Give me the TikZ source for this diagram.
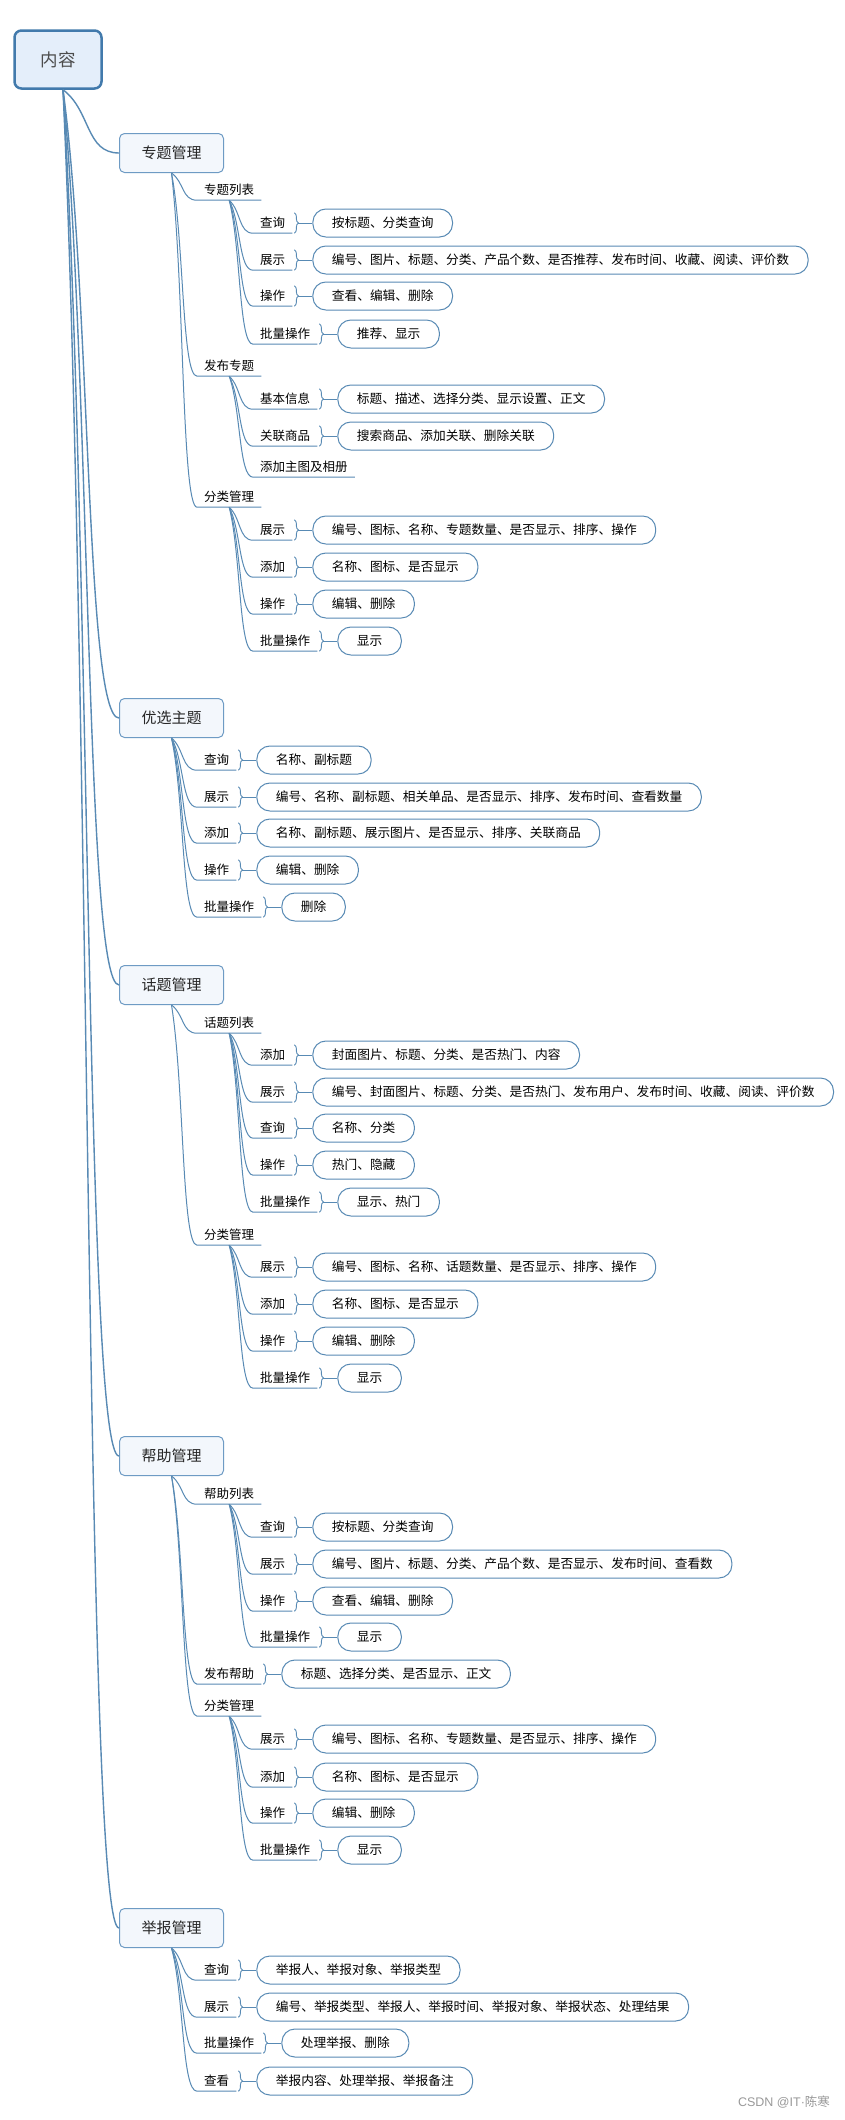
\documentclass[tikz,border=0pt]{standalone}
\usepackage{fontspec}
\newfontfamily\cjk{Noto Sans CJK SC}
\newfontfamily\lat{Liberation Sans}
\usepackage{tikz}
\usetikzlibrary{positioning,calc,decorations.pathreplacing}
\definecolor{linec}{RGB}{88,138,180}
\definecolor{rootc}{RGB}{66,122,172}
\definecolor{rootfill}{RGB}{228,238,250}
\definecolor{topicc}{RGB}{110,155,196}
\definecolor{topicfill}{RGB}{243,247,252}

\begin{document}
\begin{tikzpicture}[x=1pt, y=1pt,
    root/.style={draw=rootc, line width=2.5pt, rounded corners=7pt, fill=rootfill,
                 minimum width=87pt, minimum height=58pt,
                 font=\cjk\fontsize{17.5}{20}\selectfont, text=black!70},
    topic/.style={draw=topicc, line width=1pt, rounded corners=5pt, fill=topicfill,
                 minimum width=104pt, minimum height=39pt,
                 font=\cjk\fontsize{15}{18}\selectfont, text=black!85},
    lbl/.style={anchor=west, inner xsep=7pt, inner ysep=0pt, minimum height=20pt,
                text height=10pt, text depth=2pt, font=\cjk\fontsize{12.5}{15}\selectfont},
    val/.style={draw=linec, line width=1pt, rounded corners=13pt, minimum height=28pt,
                inner xsep=19pt, inner ysep=0pt, text height=10pt, text depth=2pt,
                fill=white, font=\cjk\fontsize{12.7}{15}\selectfont},
    conn/.style={draw=linec, line width=1pt},
    brc/.style={draw=linec, line width=0.9pt, decorate, decoration={brace, amplitude=4pt}},
    xcurve/.style={to path={let \p1=(\tikztostart), \p2=(\tikztotarget) in
        .. controls ({0.5*\x1+0.5*\x2},{0.67*\y1+0.33*\y2}) and ({0.6*\x1+0.4*\x2},\y2) .. (\tikztotarget)}},
]
\path[use as bounding box, fill=white] (0,0) rectangle (845,-2120);
\node[root] (root) at (58,-59.5) {内容};
\node[topic] (zt) at (171.5,-153)  {专题管理};
\node[topic] (yx) at (171.5,-718)  {优选主题};
\node[topic] (ht) at (171.5,-985)  {话题管理};
\node[topic] (bz) at (171.5,-1456) {帮助管理};
\node[topic] (jb) at (171.5,-1928) {举报管理};
\foreach \tp in {zt,yx,ht,bz,jb} {
    \draw[conn, line width=1.4pt] ([xshift=5pt]root.south) to[xcurve] (\tp.west);
}
\foreach \from/\col/\row/\key in {zt/197/190/专题列表, zt/197/366/发布专题, l366/253/467/添加主图及相册,
    zt/197/497/分类管理, ht/197/1023/话题列表, ht/197/1235/分类管理,
    bz/197/1494/帮助列表, bz/197/1706/分类管理} {
    \node[lbl] (l\row) at (\col,-\row) {\key};
    \draw[conn] (\from.south) to[xcurve] (l\row.south west) -- (l\row.south east);
}
\foreach \from/\col/\row/\key/\txt in {
    l190/253/223/查询/按标题、分类查询,
    l190/253/260/展示/编号、图片、标题、分类、产品个数、是否推荐、发布时间、收藏、阅读、评价数,
    l190/253/296/操作/查看、编辑、删除,
    l190/253/334/批量操作/推荐、显示,
    l366/253/399/基本信息/标题、描述、选择分类、显示设置、正文,
    l366/253/436/关联商品/搜索商品、添加关联、删除关联,
    l497/253/530/展示/编号、图标、名称、专题数量、是否显示、排序、操作,
    l497/253/567/添加/名称、图标、是否显示,
    l497/253/604/操作/编辑、删除,
    l497/253/641/批量操作/显示,
    yx/197/760/查询/名称、副标题,
    yx/197/797/展示/编号、名称、副标题、相关单品、是否显示、排序、发布时间、查看数量,
    yx/197/833/添加/名称、副标题、展示图片、是否显示、排序、关联商品,
    yx/197/870/操作/编辑、删除,
    yx/197/907/批量操作/删除,
    l1023/253/1055/添加/封面图片、标题、分类、是否热门、内容,
    l1023/253/1092/展示/编号、封面图片、标题、分类、是否热门、发布用户、发布时间、收藏、阅读、评价数,
    l1023/253/1128/查询/名称、分类,
    l1023/253/1165/操作/热门、隐藏,
    l1023/253/1202/批量操作/显示、热门,
    l1235/253/1267/展示/编号、图标、名称、话题数量、是否显示、排序、操作,
    l1235/253/1304/添加/名称、图标、是否显示,
    l1235/253/1341/操作/编辑、删除,
    l1235/253/1378/批量操作/显示,
    l1494/253/1527/查询/按标题、分类查询,
    l1494/253/1564/展示/编号、图片、标题、分类、产品个数、是否显示、发布时间、查看数,
    l1494/253/1601/操作/查看、编辑、删除,
    l1494/253/1637/批量操作/显示,
    bz/197/1674/发布帮助/标题、选择分类、是否显示、正文,
    l1706/253/1739/展示/编号、图标、名称、专题数量、是否显示、排序、操作,
    l1706/253/1777/添加/名称、图标、是否显示,
    l1706/253/1813/操作/编辑、删除,
    l1706/253/1850/批量操作/显示,
    jb/197/1970/查询/举报人、举报对象、举报类型,
    jb/197/2007/展示/编号、举报类型、举报人、举报时间、举报对象、举报状态、处理结果,
    jb/197/2043/批量操作/处理举报、删除,
    jb/197/2081/查看/举报内容、处理举报、举报备注} {
    \node[lbl] (l\row) at (\col,-\row) {\key};
    \node[val, right=20pt of l\row] (v\row) {\txt};
    \draw[conn] (\from.south) to[xcurve] (l\row.south west) -- (l\row.south east);
    \draw[brc] ([xshift=2pt]l\row.north east) -- ([xshift=2pt]l\row.south east);
    \draw[conn] ([xshift=6pt]l\row.east) -- (v\row.west);
}
\node[font=\lat\fontsize{12.5}{15}\selectfont, text=black!40] (wm) at (784,-2102) {CSDN @IT·{\cjk 陈寒}};
\end{tikzpicture}
\end{document}
